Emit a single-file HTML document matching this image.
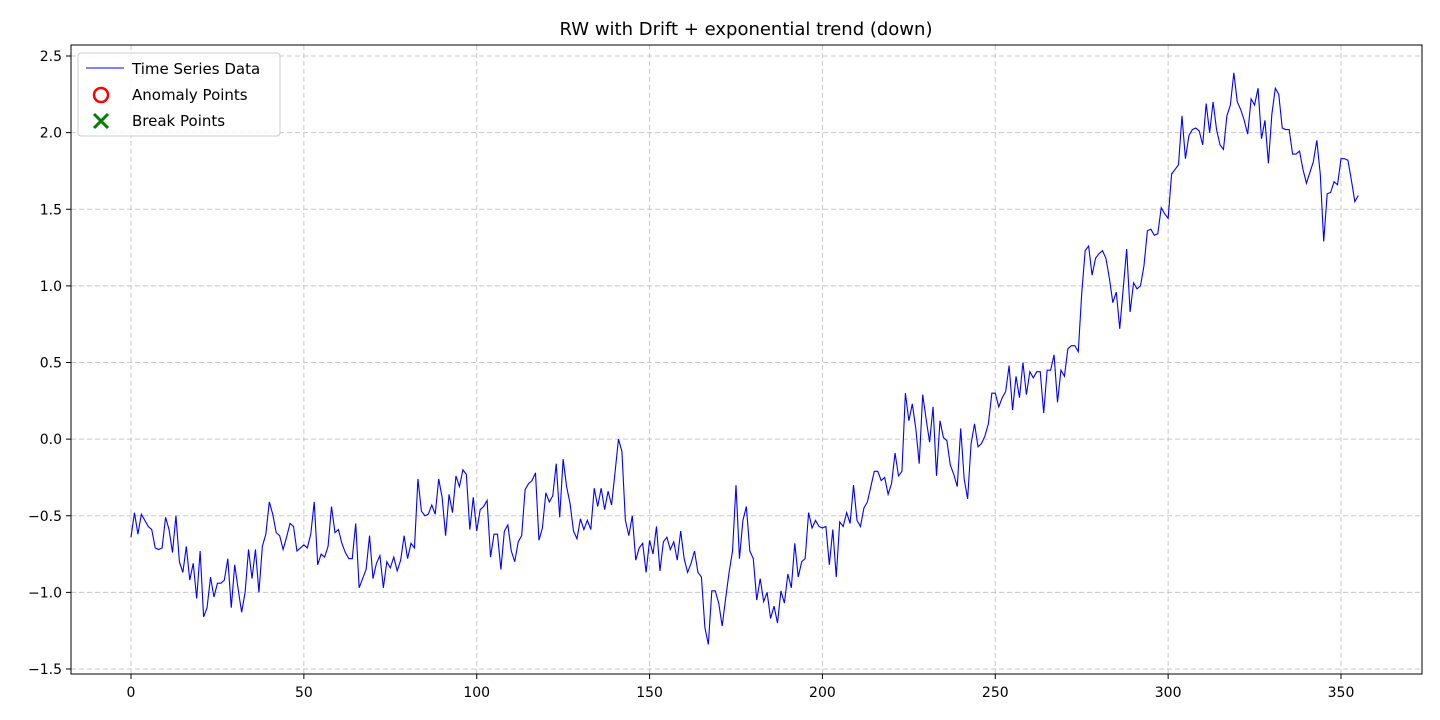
<!DOCTYPE html>
<html><head><meta charset="utf-8"><style>
body{margin:0;background:#fff;}
svg{display:block;font-family:"DejaVu Sans","Liberation Sans",sans-serif;}
</style></head><body>
<svg id="chart" width="1440" height="720" xmlns="http://www.w3.org/2000/svg">
<rect width="1440" height="720" fill="#fff"/>
<text x="746" y="35" font-size="18" text-anchor="middle" fill="#000">RW with Drift + exponential trend (down)</text>
<g id="grid"></g>
<g id="xticks"></g>
<g id="yticks"></g>
<path id="series" fill="none" stroke="#0000ff" stroke-width="1.1"/>
<rect x="71" y="45" width="1351" height="629" fill="none" stroke="#000" stroke-width="1"/>
<g>
<rect x="78" y="53" width="202" height="83" rx="3" fill="#fff" fill-opacity="0.85" stroke="#ccc"/>
<line x1="86" y1="68" x2="124" y2="68" stroke="#0000ff" stroke-width="1.1"/>
<text x="132" y="74" font-size="15">Time Series Data</text>
<circle cx="101" cy="95" r="7" fill="none" stroke="#ff0000" stroke-width="2.5"/>
<text x="132" y="100" font-size="15">Anomaly Points</text>
<path d="M94 114 L108 128 M108 114 L94 128" stroke="#008000" stroke-width="3"/>
<text x="132" y="126" font-size="15">Break Points</text>
</g>
</svg>
<script>
const values = [-0.64,-0.48,-0.62,-0.49,-0.53,-0.57,-0.59,-0.71,-0.72,-0.71,-0.51,-0.59,-0.74,-0.50,-0.80,-0.87,-0.70,-0.92,-0.81,-1.04,
-0.73,-1.16,-1.10,-0.90,-1.03,-0.94,-0.94,-0.92,-0.78,-1.10,-0.82,-0.98,-1.13,-1.00,-0.72,-0.91,-0.72,-1.00,-0.70,-0.62,
-0.41,-0.49,-0.61,-0.63,-0.72,-0.64,-0.55,-0.57,-0.73,-0.71,-0.69,-0.71,-0.62,-0.41,-0.82,-0.75,-0.77,-0.70,-0.44,-0.61,
-0.59,-0.68,-0.74,-0.78,-0.78,-0.55,-0.97,-0.91,-0.85,-0.63,-0.91,-0.81,-0.76,-0.97,-0.80,-0.84,-0.77,-0.86,-0.79,-0.63,
-0.78,-0.68,-0.71,-0.26,-0.47,-0.50,-0.49,-0.43,-0.49,-0.26,-0.38,-0.63,-0.36,-0.48,-0.24,-0.31,-0.20,-0.23,-0.59,-0.38,
-0.60,-0.46,-0.44,-0.40,-0.77,-0.62,-0.62,-0.85,-0.60,-0.56,-0.73,-0.80,-0.67,-0.63,-0.33,-0.29,-0.27,-0.22,-0.66,-0.58,
-0.35,-0.41,-0.37,-0.16,-0.51,-0.13,-0.31,-0.42,-0.60,-0.65,-0.52,-0.59,-0.53,-0.59,-0.32,-0.44,-0.32,-0.46,-0.34,-0.43,
-0.22,0.00,-0.08,-0.53,-0.63,-0.50,-0.79,-0.71,-0.68,-0.87,-0.66,-0.75,-0.57,-0.86,-0.67,-0.64,-0.72,-0.67,-0.79,-0.60,
-0.78,-0.87,-0.81,-0.73,-0.87,-0.90,-1.23,-1.34,-0.99,-0.99,-1.07,-1.22,-1.04,-0.87,-0.73,-0.30,-0.78,-0.53,-0.44,-0.73,
-0.78,-1.05,-0.91,-1.06,-1.00,-1.17,-1.09,-1.20,-0.99,-1.07,-0.88,-0.97,-0.68,-0.90,-0.80,-0.78,-0.48,-0.58,-0.53,-0.57,
-0.58,-0.57,-0.82,-0.59,-0.90,-0.54,-0.57,-0.48,-0.55,-0.30,-0.53,-0.57,-0.45,-0.41,-0.31,-0.21,-0.21,-0.27,-0.25,-0.36,
-0.29,-0.09,-0.24,-0.21,0.30,0.12,0.23,0.07,-0.16,0.29,0.13,-0.02,0.21,-0.24,0.12,0.01,-0.01,-0.17,-0.23,-0.31,
0.07,-0.26,-0.39,-0.03,0.10,-0.05,-0.03,0.02,0.10,0.30,0.30,0.21,0.27,0.31,0.48,0.19,0.41,0.27,0.50,0.29,
0.44,0.40,0.44,0.44,0.17,0.45,0.45,0.55,0.24,0.45,0.41,0.59,0.61,0.61,0.57,0.95,1.23,1.26,1.07,1.18,
1.21,1.23,1.18,1.05,0.89,0.96,0.72,0.98,1.24,0.83,1.02,0.98,1.00,1.13,1.36,1.37,1.33,1.34,1.51,1.47,
1.44,1.73,1.76,1.79,2.11,1.83,1.98,2.02,2.03,2.01,1.92,2.19,2.00,2.20,2.02,1.92,1.89,2.11,2.18,2.39,
2.20,2.15,2.08,1.99,2.22,2.18,2.29,1.96,2.08,1.80,2.12,2.29,2.25,2.03,2.02,2.02,1.86,1.86,1.88,1.76,
1.67,1.74,1.81,1.95,1.73,1.29,1.60,1.61,1.68,1.66,1.83,1.83,1.82,1.69,1.55,1.59];
const xTicks = [0,50,100,150,200,250,300,350];
const yTicks = [-1.5,-1.0,-0.5,0.0,0.5,1.0,1.5,2.0,2.5];

const X0=131, X1=1341, Y0=669, Y1=56;
function xs(v){return X0+(v-0)*(X1-X0)/350;}
function ys(v){return Y0+(v+1.5)*(Y1-Y0)/4;}
const NS="http://www.w3.org/2000/svg";
const grid=document.getElementById('grid'), xg=document.getElementById('xticks'), yg=document.getElementById('yticks');
function mk(tag,attrs,parent){const e=document.createElementNS(NS,tag);for(const k in attrs)e.setAttribute(k,attrs[k]);parent.appendChild(e);return e;}
xTicks.forEach(t=>{
  const x=xs(t);
  const gl=mk('line',{x1:x,x2:x,y1:45,y2:674,stroke:'#b0b0b0','stroke-opacity':0.7,'stroke-dasharray':'5,3'},grid);
  
  
  mk('line',{x1:x,x2:x,y1:674,y2:679,stroke:'#000'},xg);
  const tx=mk('text',{x:x,y:697,'font-size':14,'text-anchor':'middle'},xg);
  tx.textContent=t;
  
  
});
yTicks.forEach(t=>{
  const y=ys(t);
  const gl=mk('line',{x1:71,x2:1422,y1:y,y2:y,stroke:'#b0b0b0','stroke-opacity':0.7,'stroke-dasharray':'5,3'},grid);
  
  
  mk('line',{x1:66,x2:71,y1:y,y2:y,stroke:'#000'},yg);
  const tx=mk('text',{x:62,y:y+5,'font-size':14,'text-anchor':'end'},yg);
  tx.textContent=t.toFixed(1).replace('-','\u2212');
  
  
});
document.getElementById('series').setAttribute('d',values.map((v,i)=>(i?'L':'M')+xs(i).toFixed(2)+' '+ys(v).toFixed(2)).join(' '));
</script>
</body></html>
